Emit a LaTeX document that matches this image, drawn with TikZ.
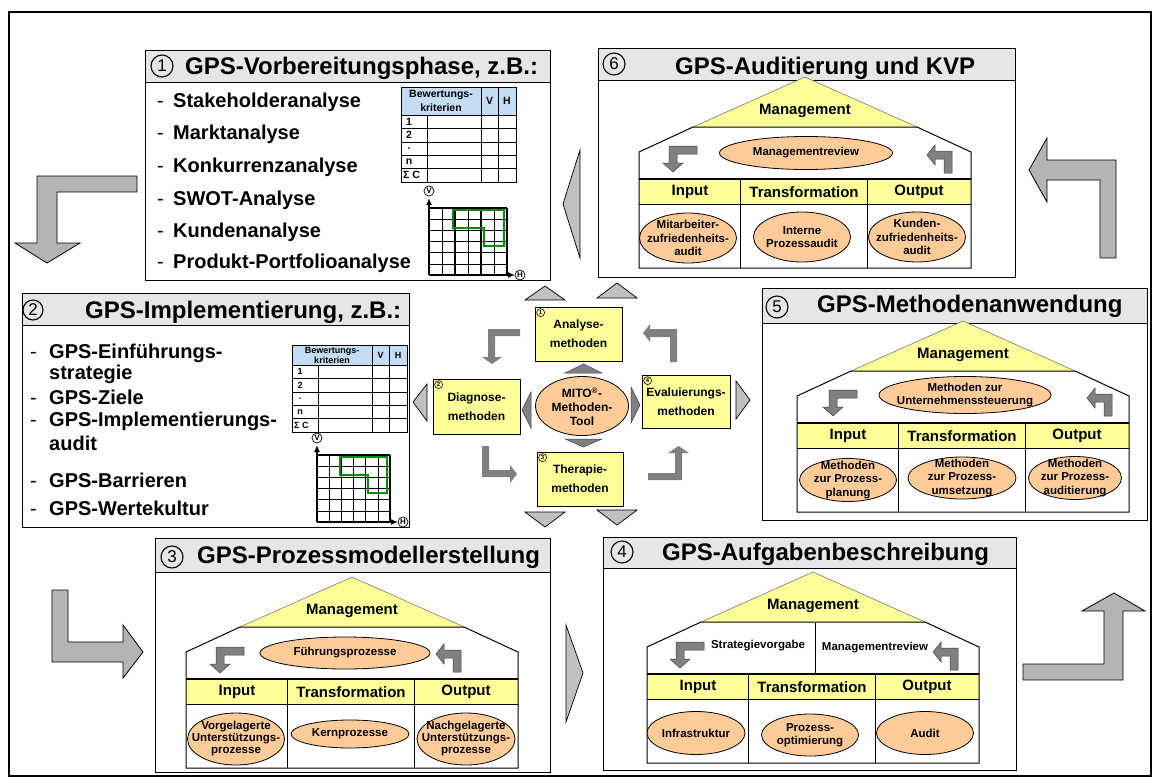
\documentclass[tikz,border=0pt]{standalone}
\usepackage{fontspec}
\setmainfont{Liberation Sans}
\usetikzlibrary{shapes.geometric,arrows.meta}
\definecolor{hdrgray}{HTML}{E6E6E6}
\definecolor{lyellow}{HTML}{FFFF99}
\definecolor{lorange}{HTML}{FFCC99}
\definecolor{tblue}{HTML}{C4DCF4}
\definecolor{bigarr}{HTML}{B4B4B4}
\definecolor{darkarr}{HTML}{808080}
\definecolor{darkline}{HTML}{404040}
\definecolor{trigray}{HTML}{C0C0C0}
\definecolor{ggreen}{HTML}{0A8A0A}
\tikzset{
 frameline/.style={line width=1.8pt},
 hdrbox/.style={draw=black, line width=1pt, fill=hdrgray},
 bodybox/.style={draw=black, line width=1pt, fill=white},
 titletxt/.style={anchor=base west, inner sep=0pt, font=\fontsize{24}{28}\selectfont\bfseries},
 numcirc/.style={circle, draw=black, line width=1.1pt, minimum size=22pt, inner sep=0pt, font=\fontsize{17}{17}\selectfont},
 itemtxt/.style={anchor=base west, inner sep=0pt, font=\fontsize{20}{24}\selectfont\bfseries},
 dashtxt/.style={anchor=base west, inner sep=0pt, font=\fontsize{20}{24}\selectfont},
 hlab/.style={inner sep=0pt, font=\fontsize{15}{18}\selectfont\bfseries},
 ellshape/.style={ellipse, draw=black, line width=0.8pt, fill=lorange, inner sep=0pt},
 elltxt/.style={inner sep=0pt, align=center, font=\fontsize{11.5}{13.3}\selectfont\bfseries},
 wall/.style={draw=black, line width=1pt},
 roofline/.style={draw=black!60, line width=0.5pt},
 darrow/.style={fill=darkarr, draw=darkline, line width=0.5pt},
 bigarrow/.style={fill=bigarr, draw=black, line width=0.8pt},
 outtri/.style={fill=trigray, draw=black, line width=0.7pt},
 intri/.style={fill=darkarr, draw=darkline, line width=0.5pt},
 cbox/.style={draw=black, line width=0.8pt, fill=lyellow, align=center, inner sep=0pt, font=\fontsize{12}{19}\selectfont\bfseries},
 smallnum/.style={circle, draw=black, line width=0.6pt, minimum size=8pt, inner sep=0pt, font=\fontsize{6}{6}\selectfont\bfseries},
 tline/.style={draw=black, line width=0.6pt},
 gthin/.style={draw=black, line width=0.6pt},
 gthick/.style={draw=black, line width=1.6pt},
 vhcirc/.style={circle, draw=black, line width=0.7pt, fill=white, minimum size=10pt, inner sep=0pt, font=\fontsize{8}{8}\selectfont\bfseries},
}
% house drawn relative to its roof apex
\newcommand{\gpshouse}[3]{%
\begin{scope}[shift={(#2,#3)}]
 \fill[lyellow] (0,0) -- (-112,50) -- (112,50) -- cycle;
 \draw[roofline] (-112,50) -- (0,0) -- (112,50);
 \fill[lyellow] (-166,102) rectangle (166,127);
 \draw[wall] (-112,50) -- (-166,75) -- (-166,191) -- (166,191) -- (166,75) -- (112,50) -- cycle;
 \draw[wall] (-166,127) -- (166,127) (-65,102) -- (-65,191) (62,102) -- (62,191);
 \draw[line width=1.6pt] (-166,102) -- (166,102);
 \node[hlab] (#1man) at (0,34) {Management};
 \node[hlab] (#1in) at (-115,115) {Input};
 \node[hlab] (#1tr) at (-1,115) {Transformation};
 \node[hlab] (#1out) at (114,115) {Output};
\end{scope}}
\newcommand{\arrL}[2]{\filldraw[darrow, shift={(#1,#2)}] (34,0) -- (6,0) -- (6,17) -- (0,17) -- (10,26) -- (20,17) -- (14,17) -- (14,8) -- (34,8) -- cycle;}
\newcommand{\arrR}[2]{\filldraw[darrow, shift={(#1,#2)}] (0,10) -- (8,0) -- (8,6) -- (25,6) -- (25,28) -- (17,28) -- (17,14) -- (8,14) -- (8,20) -- cycle;}
% evaluation table
\newcommand{\bwtab}[6]{%
\begin{scope}[shift={(#2,#3)}, every node/.style={inner sep=0pt, font=\fontsize{#5}{#6}\selectfont\bfseries}]
 \fill[tblue] (0,0) rectangle (115,#4);
 \draw[tline] (0,0) rectangle (115,#4+67);
 \foreach \rr in {0,1,2,3,4} \draw[tline] (0,#4+\rr*13.4) -- (115,#4+\rr*13.4);
 \draw[tline] (26,#4) -- (26,#4+67) (80,0) -- (80,#4+67) (97,0) -- (97,#4+67);
 \node[align=center] (#1k) at (40,#4/2) {Bewertungs-\\kriterien};
 \node (#1v) at (88.5,#4/2) {V};
 \node (#1h) at (106,#4/2) {H};
 \node (#1r1) at (8,#4+6.7) {1};
 \node (#1r2) at (8,#4+20.1) {2};
 \node (#1r3) at (8,#4+33.5) {.};
 \node (#1r4) at (8,#4+46.9) {n};
 \node[anchor=west] (#1r5) at (2,#4+60.3) {Σ C};
\end{scope}}
% portfolio grid
\newcommand{\pgrid}[5]{%
\begin{scope}[shift={(#2,#3)}]
 \foreach \ii in {1,3,5} {\draw[gthin] ({\ii*#4/6},0) -- ({\ii*#4/6},{-#5}); \draw[gthin] (0,{-\ii*#5/6}) -- (#4,{-\ii*#5/6});}
 \foreach \ii in {2,4,6} {\draw[gthick] ({\ii*#4/6},0) -- ({\ii*#4/6},{-#5}); \draw[gthick] (0,{-\ii*#5/6}) -- (#4,{-\ii*#5/6});}
 \draw[ggreen, line width=2pt] ({0.31*#4},{-0.97*#5}) -- ({0.96*#4},{-0.97*#5}) -- ({0.96*#4},{-0.43*#5}) -- ({0.70*#4},{-0.43*#5}) -- ({0.70*#4},{-0.70*#5}) -- ({0.31*#4},{-0.70*#5}) -- cycle;
 \draw[line width=1.6pt, -{Latex[length=7pt,width=6pt]}] (0,0) -- (0,{-#5-10});
 \draw[line width=1.6pt, -{Latex[length=7pt,width=6pt]}] (0,0) -- ({#4+8},0);
 \node[vhcirc] (#1v) at (0,{-#5-17}) {V};
 \node[vhcirc] (#1h) at ({#4+13},0) {H};
\end{scope}}

\begin{document}
\begin{tikzpicture}[x=1pt,y=-1pt]
\useasboundingbox (0,0) rectangle (1155,779);
\draw[frameline] (9,12) rectangle (1151,776);

% ---------- big outer arrows ----------
\filldraw[bigarrow] (137,176) -- (37,176) -- (37,243) -- (15,243) -- (47,263) -- (80,243) -- (57,243) -- (57,192) -- (137,192) -- cycle;
\filldraw[bigarrow] (52,590) -- (68,590) -- (68,642) -- (123,642) -- (123,625) -- (143,652) -- (123,678) -- (123,662) -- (52,662) -- cycle;
\filldraw[bigarrow] (1029,170) -- (1047,138) -- (1047,160) -- (1116,160) -- (1116,258) -- (1100,258) -- (1100,180) -- (1047,180) -- (1047,202) -- cycle;
\filldraw[bigarrow] (1023,664) -- (1104,664) -- (1104,611) -- (1082,611) -- (1114,593) -- (1145,611) -- (1123,611) -- (1123,680) -- (1023,680) -- cycle;
% triangles between panels
\filldraw[outtri] (563,204) -- (580,150) -- (580,258) -- cycle;
\filldraw[outtri] (583,673) -- (566,625) -- (566,722) -- cycle;

% ---------- panel 1 ----------
\draw[hdrbox] (145,50) rectangle (550,82);
\draw[bodybox] (145,82) rectangle (550,280);
\node[numcirc] (n1) at (162,66) {1};
\node[titletxt] (t1) at (185,74) {GPS-Vorbereitungsphase, z.B.:};
\foreach \kk/\yy/\tt in {a/107/Stakeholderanalyse, b/139/Marktanalyse, c/172/Konkurrenzanalyse, d/205/SWOT-Analyse, e/237/Kundenanalyse, f/268/Produkt-Portfolioanalyse}{
 \node[dashtxt] (p1d\kk) at (157,\yy) {-};
 \node[itemtxt] (p1\kk) at (173,\yy) {\tt};}
\bwtab{tb1}{401}{87}{28}{10.5}{14}
\pgrid{g1}{429}{275}{78}{67}

% ---------- panel 2 ----------
\draw[hdrbox] (22,293) rectangle (409,325);
\draw[bodybox] (22,325) rectangle (409,527);
\node[numcirc, minimum size=20pt] (n2) at (33,310) {2};
\node[titletxt] (t2) at (85,318) {GPS-Implementierung, z.B.:};
\node[dashtxt] (p2da) at (30,358) {-};
\node[itemtxt] (p2a) at (49,358) {GPS-Einführungs-};
\node[itemtxt] (p2a2) at (49,379) {strategie};
\node[dashtxt] (p2db) at (30,404) {-};
\node[itemtxt] (p2b) at (49,404) {GPS-Ziele};
\node[dashtxt] (p2dc) at (30,426) {-};
\node[itemtxt] (p2c) at (49,426) {GPS-Implementierungs-};
\node[itemtxt] (p2c2) at (49,450) {audit};
\node[dashtxt] (p2dd) at (30,487) {-};
\node[itemtxt] (p2d) at (49,487) {GPS-Barrieren};
\node[dashtxt] (p2de) at (30,515) {-};
\node[itemtxt] (p2e) at (49,515) {GPS-Wertekultur};
\bwtab{tb2}{292}{345}{20}{9}{10}
\pgrid{g2}{317}{522}{73}{67}

% ---------- panel 6 ----------
\draw[hdrbox] (598,48) rectangle (1015,80);
\draw[bodybox] (598,80) rectangle (1015,277);
\node[numcirc] (n6) at (614,64) {6};
\node[titletxt] (t6) at (675,74) {GPS-Auditierung und KVP};
\gpshouse{h6}{805}{77}
\begin{scope}[shift={(805,77)}]
 \node[ellshape, minimum width=173pt, minimum height=33pt] (h6e0) at (1,76) {};
 \node[elltxt] (h6e0t) at (h6e0) {Managementreview};
 \node[ellshape, minimum width=97pt, minimum height=50pt] (h6e1) at (-117,161) {};
 \node[elltxt] (h6e1t) at (h6e1) {Mitarbeiter-\\zufriedenheits-\\audit};
 \node[ellshape, minimum width=97pt, minimum height=50pt] (h6e2) at (-3,160) {};
 \node[elltxt] (h6e2t) at (h6e2) {Interne\\Prozessaudit};
 \node[ellshape, minimum width=97pt, minimum height=50pt] (h6e3) at (112,160) {};
 \node[elltxt] (h6e3t) at (h6e3) {Kunden-\\zufriedenheits-\\audit};
 \arrL{-142}{69}
 \arrR{122}{68}
\end{scope}

% ---------- panel 5 ----------
\draw[hdrbox] (762,288) rectangle (1147,323);
\draw[bodybox] (762,323) rectangle (1147,520);
\node[numcirc] (n5) at (777,307) {5};
\node[titletxt] (t5) at (817,312) {GPS-Methodenanwendung};
\gpshouse{h5}{963}{321}
\begin{scope}[shift={(963,321)}]
 \node[ellshape, minimum width=172pt, minimum height=37pt] (h5e0) at (2,74) {};
 \node[elltxt] (h5e0t) at (h5e0) {Methoden zur\\Unternehmenssteuerung};
 \node[ellshape, minimum width=97pt, minimum height=43pt] (h5e1) at (-115,159) {};
 \node[elltxt] (h5e1t) at (h5e1) {Methoden\\zur Prozess-\\planung};
 \node[ellshape, minimum width=108pt, minimum height=42pt] (h5e2) at (-1,157) {};
 \node[elltxt] (h5e2t) at (h5e2) {Methoden\\zur Prozess-\\umsetzung};
 \node[ellshape, minimum width=93pt, minimum height=43pt] (h5e3) at (112,157) {};
 \node[elltxt] (h5e3t) at (h5e3) {Methoden\\zur Prozess-\\auditierung};
 \arrL{-140}{69}
 \arrR{124}{67}
\end{scope}

% ---------- panel 3 ----------
\draw[hdrbox] (155,538) rectangle (550,572);
\draw[bodybox] (155,572) rectangle (550,772);
\node[numcirc] (n3) at (172,557) {3};
\node[titletxt] (t3) at (197,563) {GPS-Prozessmodellerstellung};
\gpshouse{h3}{352}{577}
\begin{scope}[shift={(352,577)}]
 \node[ellshape, minimum width=170pt, minimum height=32pt] (h3e0) at (-7,76) {};
 \node[elltxt] (h3e0t) at (h3e0) {Führungsprozesse};
 \node[ellshape, minimum width=97pt, minimum height=52pt] (h3e1) at (-116,162) {};
 \node[elltxt, font=\fontsize{11.5}{12}\selectfont\bfseries] (h3e1t) at (h3e1) {Vorgelagerte\\Unterstützungs-\\prozesse};
 \node[ellshape, minimum width=118pt, minimum height=28pt] (h3e2) at (-2,157) {};
 \node[elltxt] (h3e2t) at (h3e2) {Kernprozesse};
 \node[ellshape, minimum width=98pt, minimum height=52pt] (h3e3) at (114,162) {};
 \node[elltxt, font=\fontsize{11.5}{12}\selectfont\bfseries] (h3e3t) at (h3e3) {Nachgelagerte\\Unterstützungs-\\prozesse};
 \arrL{-142}{70}
 \arrR{84}{67}
\end{scope}

% ---------- panel 4 ----------
\draw[hdrbox] (603,537) rectangle (1016,568);
\draw[bodybox] (603,568) rectangle (1016,770);
\node[numcirc] (n4) at (622,552) {4};
\node[titletxt] (t4) at (662,560) {GPS-Aufgabenbeschreibung};
\gpshouse{h4}{813}{572}
\begin{scope}[shift={(813,572)}]
 \draw[wall] (2,51) -- (2,102);
 \node[elltxt] (h4sv) at (-55,74) {Strategievorgabe};
 \node[elltxt] (h4mr) at (62,76) {Managementreview};
 \node[ellshape, minimum width=98pt, minimum height=43pt] (h4e1) at (-117,161) {};
 \node[elltxt] (h4e1t) at (h4e1) {Infrastruktur};
 \node[ellshape, minimum width=97pt, minimum height=42pt] (h4e2) at (-3,163) {};
 \node[elltxt] (h4e2t) at (h4e2) {Prozess-\\optimierung};
 \node[ellshape, minimum width=97pt, minimum height=43pt] (h4e3) at (112,161) {};
 \node[elltxt] (h4e3t) at (h4e3) {Audit};
 \arrL{-143}{70}
 \arrR{120}{70}
\end{scope}

% ---------- centre: MITO method tool ----------
\filldraw[outtri] (525,300) -- (545,286) -- (565,300) -- cycle;
\filldraw[outtri] (597,298) -- (617,283) -- (637,298) -- cycle;
\filldraw[outtri] (525,512) -- (545,527) -- (565,512) -- cycle;
\filldraw[outtri] (597,510) -- (617,525) -- (637,510) -- cycle;
\filldraw[outtri] (413,402) -- (427,384) -- (427,421) -- cycle;
\filldraw[outtri] (750,400) -- (736,381) -- (736,419) -- cycle;

\node[cbox, minimum width=87pt, minimum height=54pt] (ana) at (578.5,334) {Analyse-\\methoden};
\node[smallnum] (ana1) at ([xshift=6pt,yshift=-6pt]ana.north west) {1};
\node[cbox, minimum width=87pt, minimum height=55pt] (dia) at (476.5,406.5) {Diagnose-\\methoden};
\node[smallnum] (dia1) at ([xshift=6pt,yshift=-6pt]dia.north west) {2};
\node[cbox, minimum width=86pt, minimum height=54pt] (the) at (580,479) {Therapie-\\methoden};
\node[smallnum] (the1) at ([xshift=6pt,yshift=-6pt]the.north west) {3};
\node[cbox, minimum width=88pt, minimum height=53pt] (eva) at (686,401.5) {Evaluierungs-\\methoden};
\node[smallnum] (eva1) at ([xshift=6pt,yshift=-6pt]eva.north west) {4};

\node[ellshape, minimum width=93pt, minimum height=59pt] (mito) at (582,406) {};
\node[elltxt, font=\fontsize{12}{14}\selectfont\bfseries] (mitot) at (582,407) {MITO\textsuperscript{®}-\\Methoden-\\Tool};

\filldraw[intri] (565,373) -- (583.5,364) -- (602,373) -- cycle;
\filldraw[intri] (565,439) -- (583.5,447) -- (602,439) -- cycle;
\filldraw[intri] (531,392) -- (522,410) -- (531,428) -- cycle;
\filldraw[intri] (631,387) -- (640,405) -- (631,423) -- cycle;

\fill[darkarr] (520,329) -- (488,329) -- (488,357) -- (482,357) -- (492,364) -- (502,357) -- (495,357) -- (495,336) -- (520,336) -- cycle;
\fill[darkarr] (677,362) -- (677,329) -- (650,329) -- (650,324) -- (643,333) -- (650,342) -- (650,337) -- (670,337) -- (670,362) -- cycle;
\fill[darkarr] (482,446) -- (489,446) -- (489,470) -- (510,470) -- (510,465) -- (517,474) -- (510,483) -- (510,477) -- (482,477) -- cycle;
\fill[darkarr] (648,473) -- (675,473) -- (675,453) -- (668,453) -- (678.5,446) -- (689,453) -- (682,453) -- (682,480) -- (648,480) -- cycle;
\end{tikzpicture}
\end{document}
